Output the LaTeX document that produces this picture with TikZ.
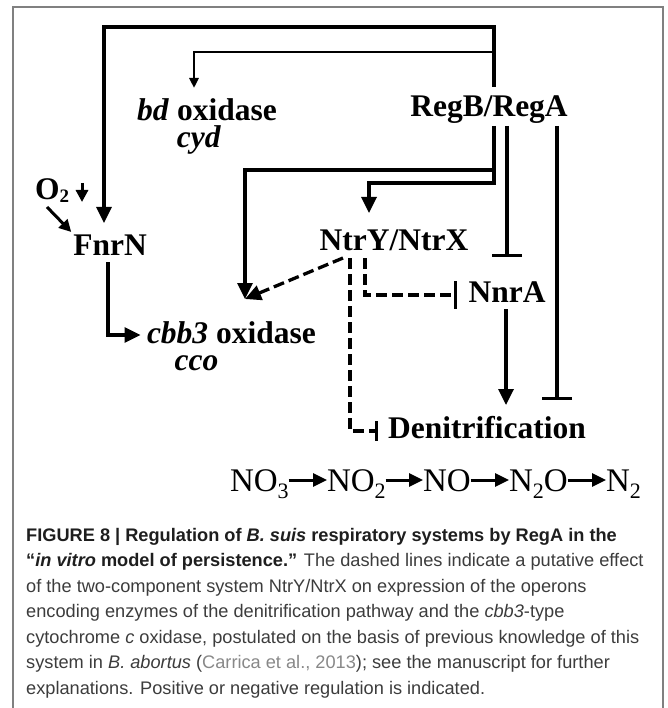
\documentclass[tikz,border=0pt]{standalone}
\usepackage{fontspec}
\setmainfont{Liberation Serif}
\newfontfamily\capfont{Liberation Sans}
\usetikzlibrary{arrows.meta,calc}
\definecolor{framegray}{HTML}{808080}
\definecolor{captxt}{HTML}{3C3C3C}
\definecolor{capbold}{HTML}{1E1E1E}
\definecolor{capcite}{HTML}{888888}
\newcommand\chsub[1]{\raisebox{-7pt}{\fontsize{22}{22}\selectfont #1}}
\newcommand\labsub[1]{\raisebox{-3pt}{\fontsize{19}{19}\selectfont #1}}
\tikzset{
  labfont/.style={font=\fontsize{31.5}{27}\selectfont\bfseries, inner sep=0pt, outer sep=0pt},
  lab/.style={labfont, text height=21pt, text depth=7pt},
  chem/.style={font=\fontsize{33}{36}\selectfont, inner sep=0pt, outer sep=0pt, text height=22pt, text depth=0pt, anchor=base west},
  capline/.style={font=\capfont\fontsize{18.2}{20}\selectfont, text=captxt, inner sep=0pt, anchor=base west},
  ln/.style={line width=3.3pt},
  arr/.style={ln, -{Triangle[width=15pt,length=16pt]}},
  arrs/.style={line width=2.6pt, -{Triangle[width=9pt,length=10pt]}},
  arro/.style={line width=3pt, -{Triangle[width=12pt,length=12pt]}},
  inh/.style={ln, -{Bar[width=30pt]}},
  dsh/.style={ln, dash pattern=on 11pt off 5pt},
  darr/.style={dsh, -{Triangle[width=15pt,length=16pt]}},
  dinhA/.style={dsh, -{Bar[width=20pt]}},
  dinhB/.style={dsh, -{Bar[width=28pt]}},
  carr/.style={line width=3pt, -{Triangle[width=13pt,length=14pt]}},
}
\begin{document}
\begin{tikzpicture}[x=1pt,y=-1pt]
\useasboundingbox (0,0) rectangle (667,708);
\draw[framegray, line width=1.2pt] (13,708) -- (13,7) -- (663,7) -- (663,708);

% labels
\node[lab] (RegB) at (489,110) {RegB/RegA};
\node[labfont, align=center, anchor=north] (bd) at (207,99) {\textit{bd} oxidase\\\textit{cyd}\hspace*{16pt}};
\node[lab] (O2) at (52,193) {O\labsub{2}};
\node[lab] (FnrN) at (110,248) {FnrN};
\node[lab] (NtrY) at (394,244) {NtrY/NtrX};
\node[lab] (NnrA) at (507,295) {NnrA};
\node[labfont, align=center, anchor=north west] (cbb) at (147,322) {\textit{cbb3} oxidase\\\textit{cco}\hspace*{70pt}};
\node[lab] (Denit) at (487,431) {Denitrification};

% bends
\coordinate (k1) at (104,27);
\coordinate (k2) at (494,52);
\coordinate (k3) at (494,170);
\coordinate (k4) at (494,183);
\coordinate (cbbin) at (245,299);
\coordinate (cbbw) at (147,335);

% RegB/RegA regulation
\draw[arr, shorten >=11pt] ([xshift=5pt,yshift=9pt]RegB.north) |- (k1) -- (FnrN.north -| k1);
\draw[arrs, shorten >=11pt] (k2) -| ([xshift=-13pt]bd.north);
\draw[arr, shorten >=17pt] ([xshift=5pt,yshift=-2pt]RegB.south) -- (k4) -| ([xshift=-25pt]NtrY.north);
\draw[arr] (k3) -| (cbbin);
\draw[inh, shorten >=24pt] ([xshift=18pt,yshift=-2pt]RegB.south) -- (NnrA.north);
\draw[inh, shorten >=17pt] ([xshift=68pt,yshift=-2pt]RegB.south) -- ([xshift=70pt]Denit.north);
\draw[arr, shorten >=12pt] ([xshift=-1pt]NnrA.south) -- ([xshift=19pt]Denit.north);

% O2 / FnrN
\draw[arro] ([xshift=13pt,yshift=10pt]O2.east) -- ([xshift=13pt,yshift=-9pt]O2.east);
\draw[arro] ([xshift=-5pt]O2.south) -- ([xshift=-2pt,yshift=2pt]FnrN.north west);
\draw[arr, shorten >=6.5pt] ([xshift=-2pt]FnrN.south) |- (cbbw);

% NtrY/NtrX (putative, dashed)
\draw[darr] ([xshift=-51pt]NtrY.south) -- (cbbin);
\draw[dinhA, shorten >=10pt] ([xshift=-44pt]NtrY.south) |- (Denit.west);
\draw[dinhB, shorten >=11.5pt] ([xshift=-29pt]NtrY.south) |- (NnrA.west);

% denitrification chain
\node[chem] (NO3) at (230,491) {NO\chsub{3}};
\node[chem] (NO2) at (327,491) {NO\chsub{2}};
\node[chem] (NO) at (423,491) {NO};
\node[chem] (N2O) at (509,491) {N\chsub{2}O};
\node[chem] (N2) at (606,491) {N\chsub{2}};
\draw[carr] (NO3.east) -- (NO2.west);
\draw[carr] (NO2.east) -- (NO.west);
\draw[carr] (NO.east) -- (N2O.west);
\draw[carr] (N2O.east) -- (N2.west);

% caption
\node[capline] (c1) at (26,541) {\color{capbold}\bfseries FIGURE 8 | Regulation of \textit{B. suis} respiratory systems by RegA in the};
\node[capline] (c2) at (26,566.5) {{\color{capbold}\bfseries “\textit{in vitro} model of persistence.”} The dashed lines indicate a putative effect};
\node[capline] (c3) at (26,592) {of the two-component system NtrY/NtrX on expression of the operons};
\node[capline] (c4) at (26,617.5) {encoding enzymes of the denitrification pathway and the \textit{cbb3}-type};
\node[capline] (c5) at (26,643) {cytochrome \textit{c} oxidase, postulated on the basis of previous knowledge of this};
\node[capline] (c6) at (26,668.5) {system in \textit{B. abortus} ({\color{capcite}Carrica et al., 2013}); see the manuscript for further};
\node[capline] (c7) at (26,694) {explanations. Positive or negative regulation is indicated.};
\end{tikzpicture}
\end{document}
